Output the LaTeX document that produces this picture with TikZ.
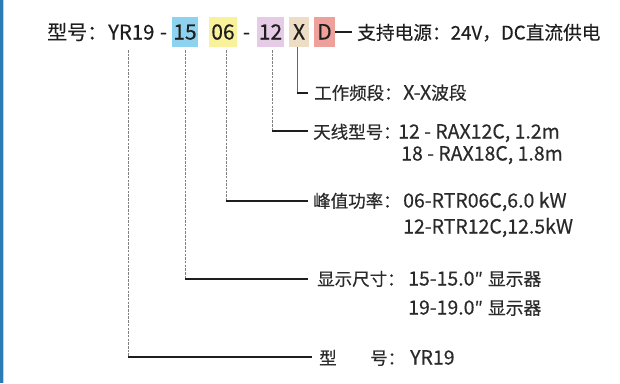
\documentclass[tikz,border=0pt]{standalone}
\usepackage{fontspec}
\setmainfont{Noto Sans CJK SC}[FakeBold=0.4]
\definecolor{ink}{HTML}{1E1E1E}
\definecolor{ink2}{HTML}{2A2A2A}
\definecolor{guidegray}{HTML}{808080}
\definecolor{barblue}{HTML}{2C7BB6}
\definecolor{bargray}{HTML}{D0D0D0}
\definecolor{c15}{HTML}{8DD3F0}
\definecolor{c06}{HTML}{F9F29B}
\definecolor{c12}{HTML}{E5CBE5}
\definecolor{cX}{HTML}{EEDDC5}
\definecolor{cD}{HTML}{EEA09A}
\newcommand{\cj}[1]{{\fontsize{17.8}{20}\selectfont #1}}
\begin{document}
\begin{tikzpicture}[x=1pt,y=-1pt,
  toptext/.style={font=\fontsize{21}{24}\selectfont,text=ink,inner sep=0pt},
  titletext/.style={font=\fontsize{20}{24}\selectfont,text=ink,inner sep=0pt,anchor=base west},
  powtext/.style={font=\fontsize{18.7}{22}\selectfont,text=ink,inner sep=0pt,anchor=base west},
  labtext/.style={font=\fontsize{17.5}{20}\selectfont,text=ink2,inner sep=0pt,anchor=base west},
  valtext/.style={font=\fontsize{19.5}{22}\selectfont,text=ink2,inner sep=0pt,anchor=base west},
  codebox/.style={fill=#1,draw=none,minimum height=30pt,inner sep=0pt},
  guide/.style={draw=guidegray,line width=1pt,dash pattern=on 2.5pt off 1.2pt},
  guidesolid/.style={draw=guidegray!80!black,line width=1pt},
  leader/.style={draw=ink,line width=1.1pt},
]
\useasboundingbox (0,0) rectangle (620,383);
\fill[barblue] (0,0) rectangle (3.2,383);
\fill[bargray] (3.2,0) rectangle (4.4,383);

% top row
\node[titletext] (title) at (47,39.5) {型号：};
\node[toptext,anchor=base west,font=\fontsize{20.3}{24}\selectfont] (tmodel) at (108,39.5) {YR19};
\node[toptext,anchor=base] (tdash1) at (163.5,39.5) {-};
\node[codebox=c15,minimum width=26pt] (b15) at (185,32) {};
\node[toptext,anchor=base] (t15) at (185,39.5) {15};
\node[codebox=c06,minimum width=28pt] (b06) at (223,32) {};
\node[toptext,anchor=base] (t06) at (223,39.5) {06};
\node[toptext,anchor=base] (tdash2) at (246.5,39.5) {-};
\node[codebox=c12,minimum width=27pt] (b12) at (270.5,32) {};
\node[toptext,anchor=base] (t12) at (270.5,39.5) {12};
\node[codebox=cX,minimum width=20pt] (bX) at (299,32) {};
\node[toptext,anchor=base] (tX) at (299,39.5) {X};
\node[codebox=cD,minimum width=21pt] (bD) at (324.5,32) {};
\node[toptext,anchor=base] (tD) at (324.5,39.5) {D};
\node[powtext] (power) at (357,39.5) {支持电源：24V，DC直流供电};
\draw[draw=ink,line width=1.6pt] (bD.east) -- ([xshift=-5pt]power.west |- bD.east);

% labels
\node[labtext] (lband) at (314,99.5) {工作频段：};
\node[valtext] (vband) at (403,99.5) {X-X\cj{波段}};
\node[labtext] (lant) at (313,138.5) {天线型号：};
\node[valtext] (vant) at (398,138.5) {12 - RAX12C, 1.2m};
\node[valtext] (vant2) at (401,160.5) {18 - RAX18C, 1.8m};
\node[labtext] (lpow) at (313,207.5) {峰值功率：};
\node[valtext] (vpow) at (403,207.5) {06-RTR06C,6.0 kW};
\node[valtext] (vpow2) at (403,233.5) {12-RTR12C,12.5kW};
\node[labtext] (lsize) at (317,285.5) {显示尺寸：};
\node[valtext] (vsize) at (408,285.5) {15-15.0\cj{″\hspace{5pt}显示器}};
\node[valtext] (vsize2) at (408,314.5) {19-19.0\cj{″\hspace{5pt}显示器}};
\node[labtext] (lmodel) at (319,364.5) {型};
\node[labtext] (lmodel2) at (370,364.5) {号：};
\node[valtext] (vmodel) at (410,364.5) {YR19};

% guide lines
\coordinate (gX) at (297,47);   \coordinate (kX) at (297,93);
\coordinate (g12) at (272,50);  \coordinate (k12) at (272,131);
\coordinate (g06) at (226,50);  \coordinate (k06) at (226,201);
\coordinate (g15) at (185,50);  \coordinate (k15) at (185,279);
\coordinate (g0) at (128,50);   \coordinate (k0) at (128,357);

\draw[guidesolid] (gX) -- (kX);
\draw[leader] (kX) -- ([xshift=-6pt]lband.west |- kX);
\draw[guide] (g12) -- (k12);
\draw[leader] (k12) -- ([xshift=-5pt]lant.west |- k12);
\draw[guide] (g06) -- (k06);
\draw[leader] (k06) -- ([xshift=-5pt]lpow.west |- k06);
\draw[guide] (g15) -- (k15);
\draw[leader] (k15) -- ([xshift=-9pt]lsize.west |- k15);
\draw[guide] (g0) -- (k0);
\draw[leader] (k0) -- ([xshift=-7pt]lmodel.west |- k0);
\end{tikzpicture}
\end{document}
